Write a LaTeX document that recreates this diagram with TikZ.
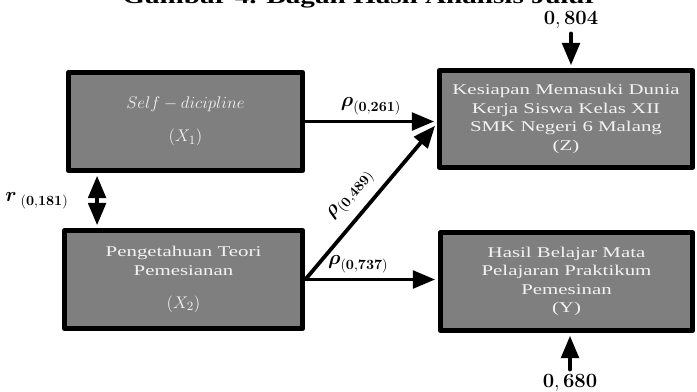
\documentclass[tikz,border=0pt]{standalone}
\usepackage{amsmath,amssymb}
\usepackage[no-math]{fontspec}
\setmainfont[FakeStretch=1.4]{Liberation Serif}
\usetikzlibrary{arrows}
\definecolor{isikotak}{RGB}{127,127,127}
\definecolor{hurufkotak}{RGB}{242,242,242}

\begin{document}
\begin{tikzpicture}[line cap=round,line join=round,>=triangle 45,x=0.025cm,y=-0.025cm,
    kotak/.style={draw=black,line width=4pt,fill=isikotak,text=hurufkotak,align=center,
      minimum height=2.45cm,inner sep=2pt,font=\fontsize{10.6}{13.1}\selectfont},
    panah/.style={->,line width=2.7pt},
    angka/.style={font=\fontsize{14.5}{16}\selectfont}]
  \clip (0,0) rectangle (697,391);
  % judul (terpotong di tepi atas)
  \node[anchor=base,font=\bfseries\fontsize{14.8}{16}\selectfont] (judul) at (360,3) {Gambar 4. Bagan Hasil Analisis Jalur};

  \node[kotak,minimum width=5.85cm] (X1) at (185.5,121.5)
    {\fontsize{12.4}{13.1}\selectfont$Self-dicipline$\\[10.3pt]\fontsize{12.4}{13.1}\selectfont$(X_1)$};
  \node[kotak,minimum width=5.95cm] (X2) at (183.5,279.5)
    {Pengetahuan Teori\\Pemesianan\\[10.3pt]\fontsize{12.4}{13.1}\selectfont$(X_2)$};
  \node[kotak,minimum width=6.325cm,minimum height=2.425cm] (Z) at (566,119)
    {Kesiapan Memasuki Dunia\\Kerja Siswa Kelas XII\\SMK Negeri 6 Malang\\(Z)};
  \node[kotak,minimum width=6.3cm] (Y) at (566.5,281.5)
    {Hasil Belajar Mata\\Pelajaran Praktikum\\Pemesinan\\(Y)};

  \node[angka] (e1) at (571,20) {$\mathbf{0,804}$};
  \node[angka] (e2) at (570,383) {$\mathbf{0,680}$};

  \draw[panah,shorten >=2pt] (X1.east) -- (X1.east -| Z.west)
    node[midway,above,angka] {$\boldsymbol{\rho}_{\mathbf{(0,261)}}$};
  \draw[panah,shorten >=2pt] (X2.east) -- ([yshift=-0.12cm]Z.west)
    node[pos=0.46,sloped,above=3pt,angka] {$\boldsymbol{\rho}_{\mathbf{(0,489)}}$};
  \draw[panah,shorten >=2pt] (X2.east) -- (X2.east -| Y.west)
    node[pos=0.4,above,angka] {$\boldsymbol{\rho}_{\mathbf{(0,737)}}$};
  \draw[panah,<->,shorten >=2pt,shorten <=2pt] ([xshift=-2.21cm]X1.south) -- ([xshift=-2.21cm]X1.south |- X2.north)
    node[midway,left=0.55cm,angka] {$\boldsymbol{r}_{\;\mathbf{(0,181)}}$};

  \draw[panah,shorten >=2pt] (e1) -- (e1 |- Z.north);
  \draw[panah,shorten >=2pt] (e2) -- (e2 |- Y.south);
\end{tikzpicture}
\end{document}
